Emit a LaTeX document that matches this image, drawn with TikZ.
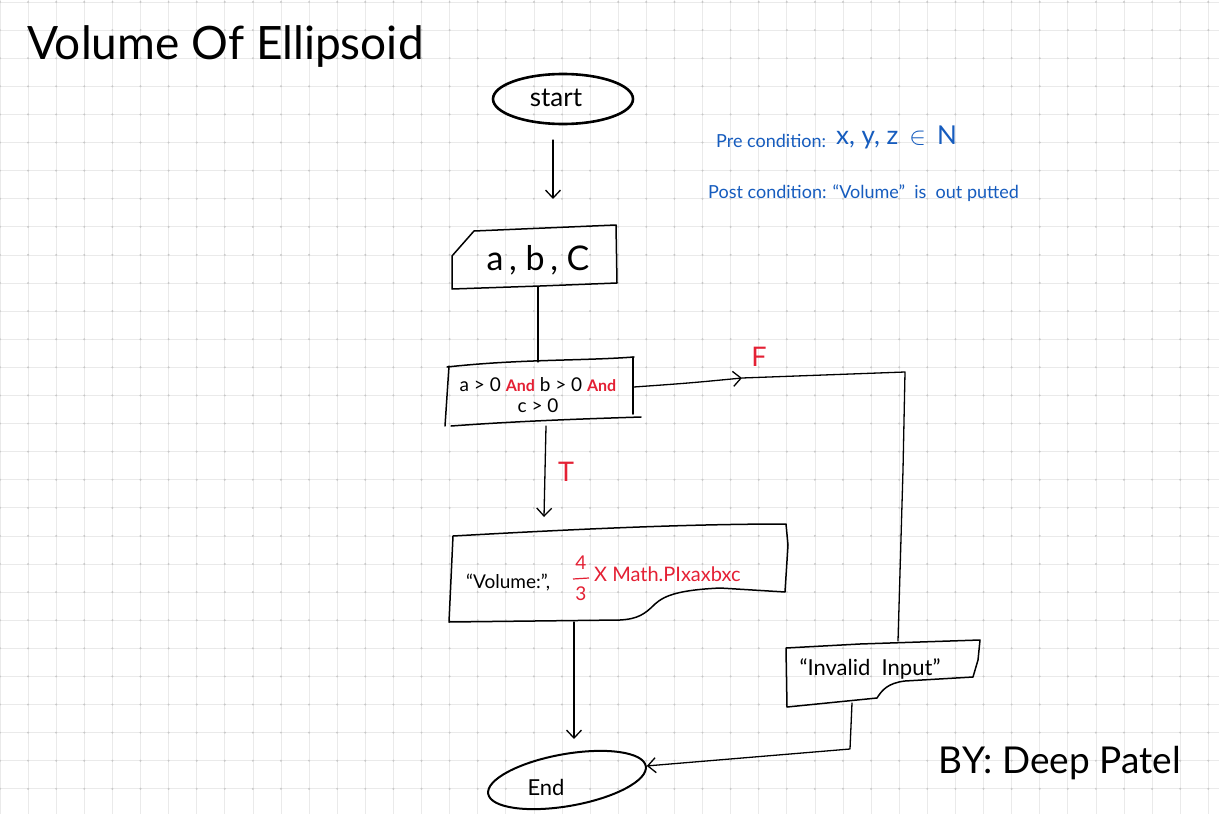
\documentclass[tikz,border=0pt]{standalone}
\usepackage{fontspec}
\setmainfont{Lato}
\usetikzlibrary{arrows.meta,shapes.geometric}
\definecolor{inkred}{RGB}{228,32,52}
\definecolor{inkblue}{RGB}{22,92,190}
\definecolor{gridc}{RGB}{234,234,234}
\definecolor{dotc}{RGB}{200,200,200}
\tikzset{
  gridline/.style={draw=gridc, line width=0.7pt},
  box/.style={draw=black, line width=1.5pt, line join=round, line cap=round},
  conn/.style={draw=black, line width=1.3pt, line cap=round, line join=round},
  arr/.style={conn, -{Straight Barb[length=8pt,width=15pt,line width=1.3pt]}},
  txt/.style={inner sep=0pt, text=black},
  rtxt/.style={inner sep=0pt, text=inkred},
  btxt/.style={inner sep=0pt, text=inkblue, anchor=west},
}
\begin{document}
\begin{tikzpicture}[x=1pt,y=-1pt]
\useasboundingbox (0,0) rectangle (1219,814);
\fill[white] (0,0) rectangle (1219,814);
% grid paper
\foreach \i in {0,...,43} \draw[gridline] (28.1*\i,0) -- (28.1*\i,814);
\foreach \j in {0,...,28} \draw[gridline] (0,2+28.1*\j) -- (1219,2+28.1*\j);
\foreach \i in {0,...,43} \foreach \j in {0,...,28} \fill[dotc] (28.1*\i,2+28.1*\j) circle[radius=1.1];

% title and notes
\node[txt, anchor=west] (title) at (27,47) {\fontsize{46}{52}\selectfont Volume Of Ellipsoid};
\node[txt, anchor=east] (by) at (1181,763) {\fontsize{37}{42}\selectfont BY: Deep Patel};
\node[btxt] (pre1) at (716,141) {\fontsize{18}{21}\selectfont Pre condition:};
\node[btxt] (pre2) at (836,137) {\fontsize{26}{30}\selectfont x, y, z \,$\in$\, N};
\node[btxt] (post) at (708,193) {\fontsize{18}{21}\selectfont Post condition: “Volume” \ is \ out putted};

% start
\node[draw, ellipse, line width=2.6pt, minimum width=140pt, minimum height=50pt, inner sep=0pt] (start) at (563,99) {};
\node[txt] (starttxt) at (556,98) {\fontsize{26}{28}\selectfont start};

% input a, b, C
\draw[box] (452,289) -- (452,256) -- (474,231) -- (545,228) -- (616,225) -- (617,283) -- (540,286) -- cycle;
\node[txt] (inp) at (538,260) {\fontsize{34}{38}\selectfont a\,, b\,, C};

% decision
\draw[box] (447,367) .. controls (520,359) and (580,361) .. (634,357);
\draw[box] (449,366) -- (445,426);
\draw[box] (633,357) -- (633,414);
\draw[box] (451,426) .. controls (520,421) and (580,419) .. (641,417);
\node[txt] (dec1) at (538,385) {\fontsize{19}{22}\selectfont a > 0 {\color{inkred}\fontsize{16}{18}\selectfont\bfseries And} b > 0 {\color{inkred}\fontsize{16}{18}\selectfont\bfseries And}};
\node[txt] (dec2) at (538,406) {\fontsize{19}{22}\selectfont c > 0};

% output
\draw[box] (453,536) .. controls (560,530) and (680,524) .. (786,524) -- (788,545) -- (785,592) -- (720,588) .. controls (680,590) and (665,595) .. (655,604) .. controls (645,614) and (638,619) .. (620,620) -- (449,622) -- cycle;
\node[txt, anchor=west] (out1) at (466,583) {\fontsize{19}{22}\selectfont “Volume:”,};
\node[rtxt] (fnum) at (581,563) {\fontsize{19}{22}\selectfont 4};
\node[rtxt] (fden) at (581,594) {\fontsize{19}{22}\selectfont 3};
\draw[inkred, line width=1.2pt] (573,579) -- (589,578);
\node[rtxt, anchor=west] (out2) at (594,574) {\fontsize{20}{24}\selectfont X Math.PIxaxbxc};

% invalid input
\draw[box] (786,648) -- (860,644) -- (980,640) -- (978,660) -- (973,677) -- (905,681) .. controls (888,683) and (882,690) .. (877,698) -- (787,707) -- cycle;
\node[txt] (invtxt) at (870,669) {\fontsize{22}{24}\selectfont “Invalid \ Input”};

% end
\node[draw, ellipse, line width=2pt, minimum width=160pt, minimum height=52pt, inner sep=0pt, rotate=10] (endell) at (567,780) {};
\node[txt] (endtxt) at (546,787) {\fontsize{22}{24}\selectfont End};

% labels
\node[rtxt] (flab) at (759,357) {\fontsize{27}{30}\selectfont F};
\node[rtxt] (tlab) at (566,472) {\fontsize{27}{30}\selectfont T};

% connectors
\coordinate (s1) at (553,140); \coordinate (s2) at (553,199);
\draw[arr] (s1) -- (s2);
\coordinate (inB) at (538,287); \coordinate (decT) at (538,362);
\draw[conn] (inB) -- (decT);
\coordinate (decR) at (634,387); \coordinate (fmid) at (742,378);
\coordinate (fc) at (905,372); \coordinate (invT) at (898,641);
\draw[arr] (decR) .. controls (690,383) .. (fmid);
\draw[conn] (fmid) -- (fc) -- (903,470) -- (invT);
\coordinate (decB) at (546,426); \coordinate (tEnd) at (544,517);
\draw[arr] (decB) -- (tEnd);
\coordinate (outB) at (574,622); \coordinate (eT) at (574,739);
\draw[arr] (outB) -- (eT);
\coordinate (invB) at (852,703); \coordinate (ic) at (850,749);
\draw[arr] (invB) -- (ic) -- (endell.east);
\end{tikzpicture}
\end{document}
